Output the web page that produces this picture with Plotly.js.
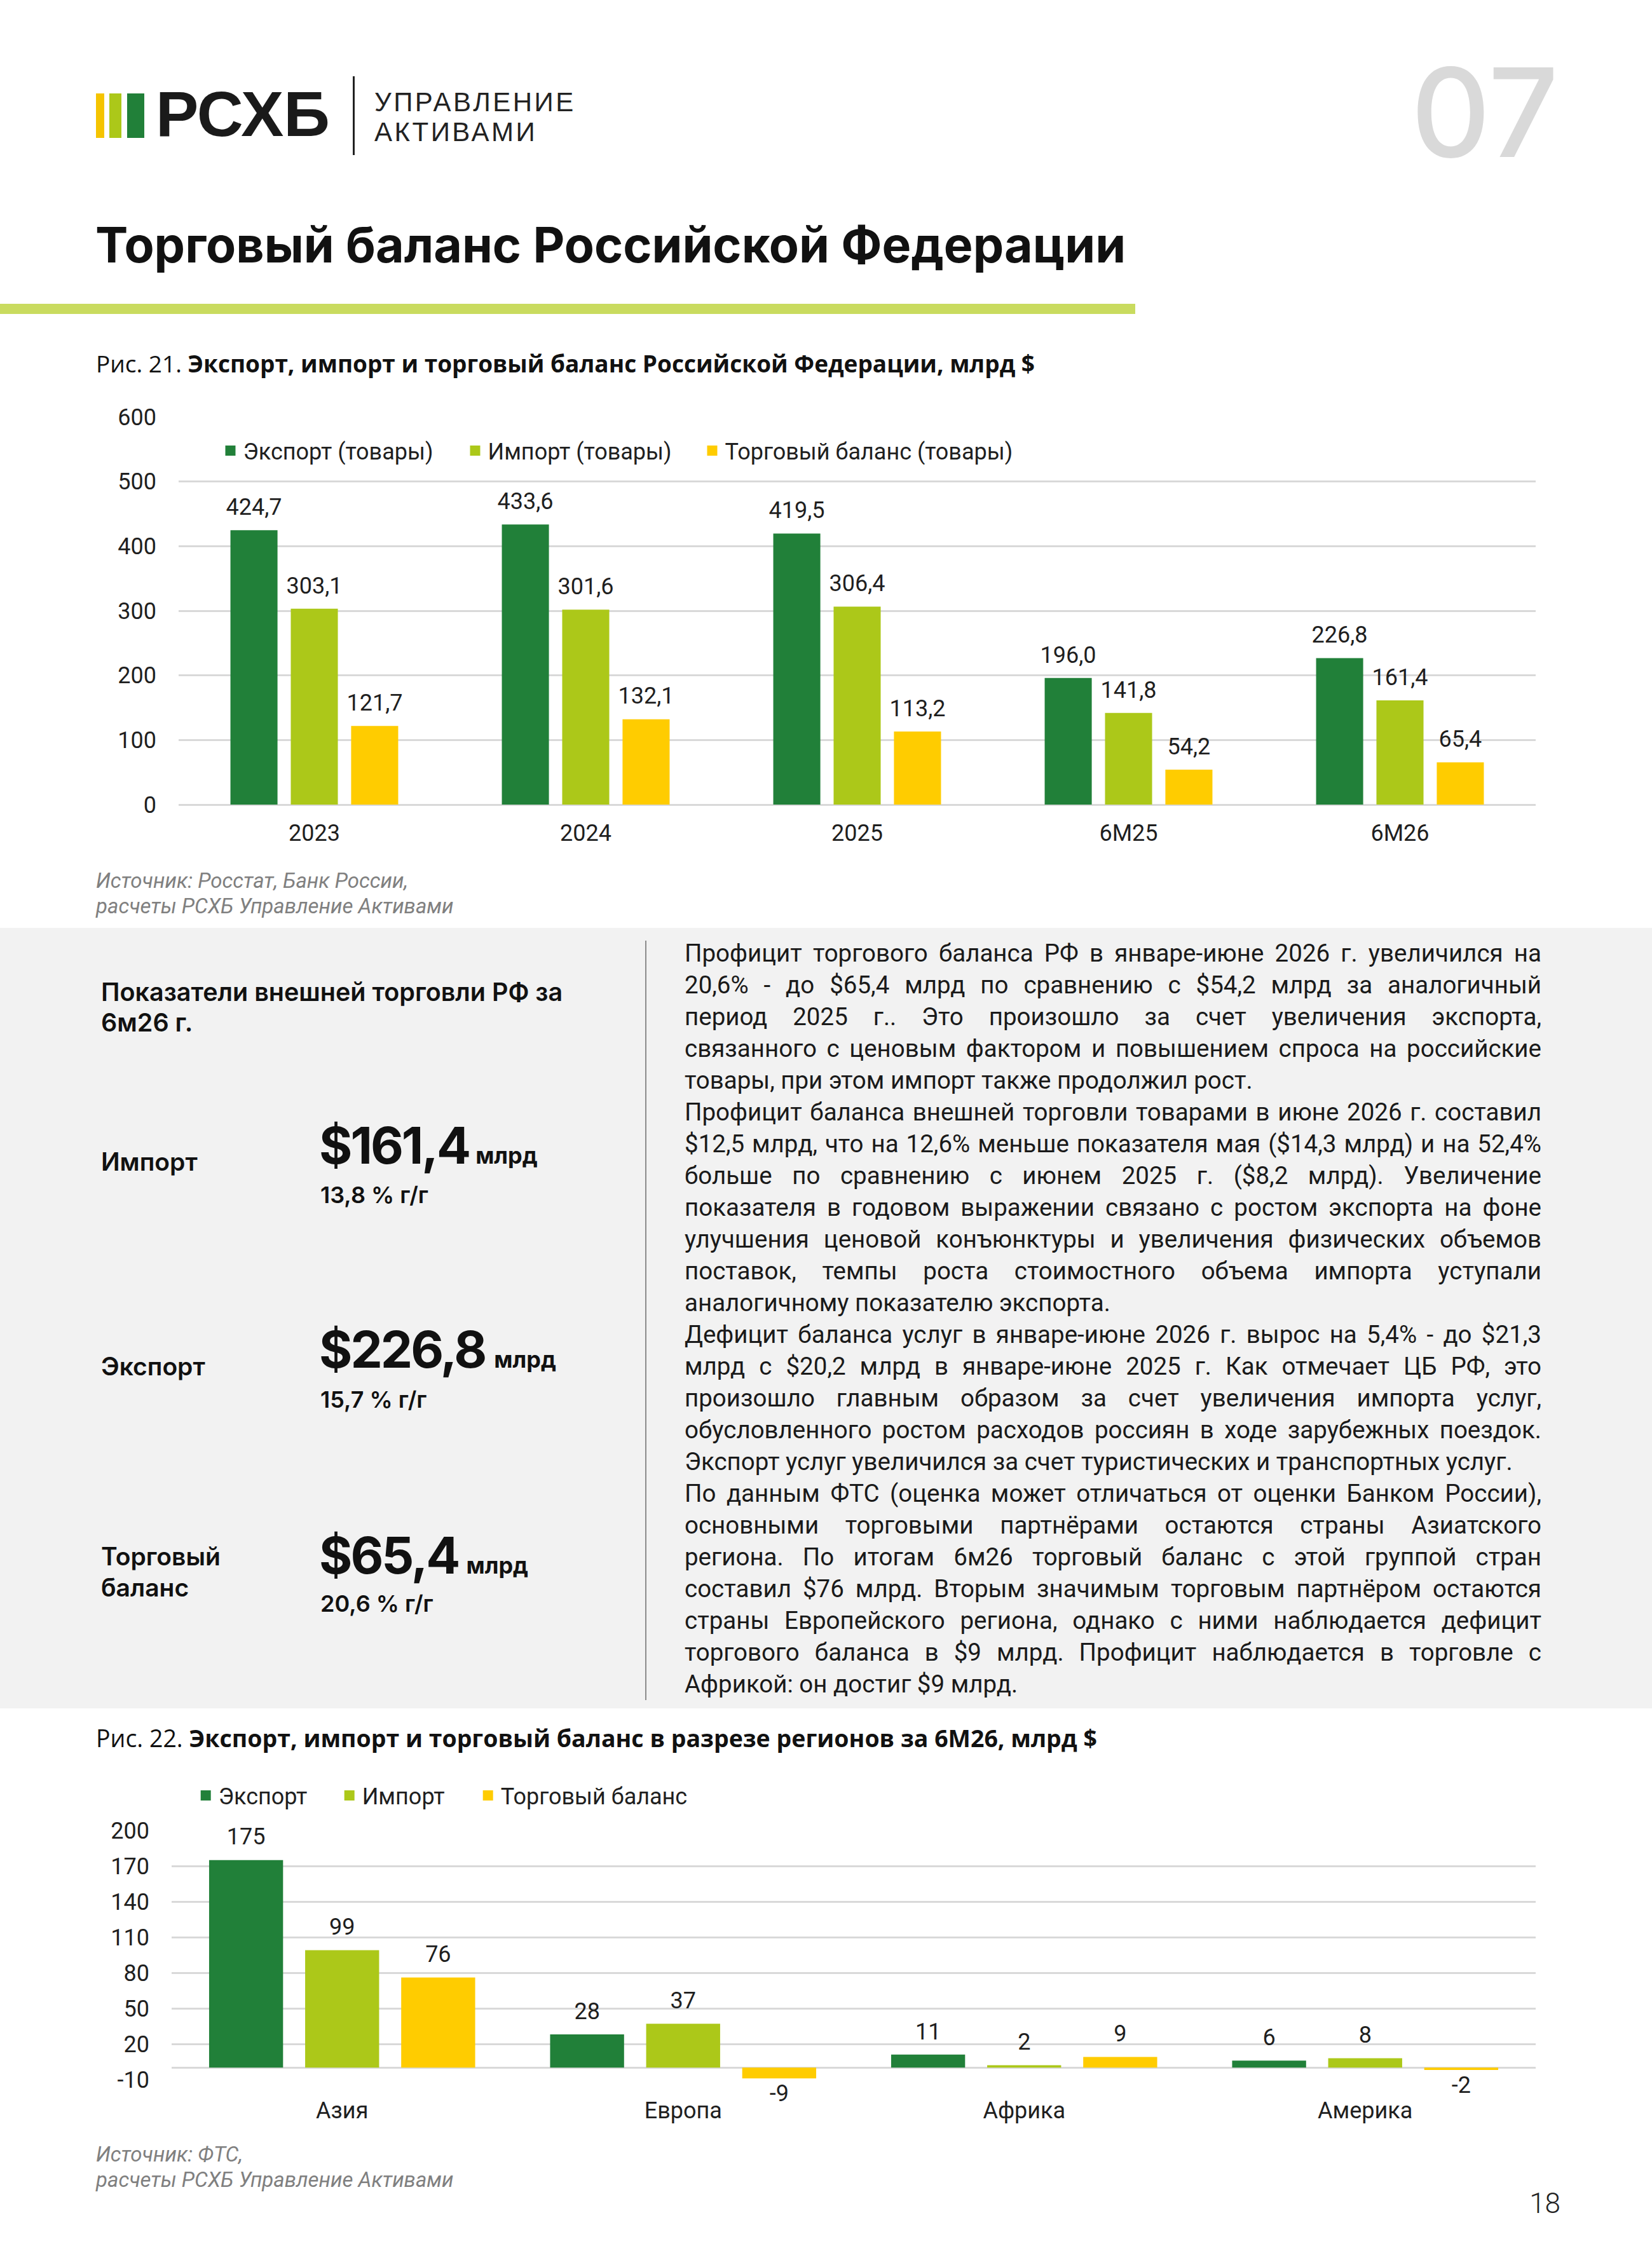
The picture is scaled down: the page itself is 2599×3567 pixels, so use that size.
<!DOCTYPE html>
<html lang="ru">
<head>
<meta charset="utf-8">
<script src="https://cdn.plot.ly/plotly-3.0.1.min.js"></script>
<style>
  html, body { margin: 0; padding: 0; background: #ffffff; }
  body { width: 2599px; height: 3567px; position: relative; overflow: hidden; font-family: Roboto, "Noto Sans", sans-serif; color: #1a1a1a; }
  .abs { position: absolute; white-space: nowrap; }
  .inter { font-family: Inter, "Noto Sans", sans-serif; }
  .rob { font-family: Roboto, "Noto Sans", sans-serif; }
  .osans { font-family: "Open Sans", Roboto, sans-serif; }
  #panel { position: absolute; left: 0; top: 1460px; width: 2599px; height: 1228px; background: #f2f2f2; }
  #vline { position: absolute; left: 1015px; top: 1480px; width: 2px; height: 1195px; background: #8c8c8c; }
  #body { position: absolute; left: 1077px; top: 1475px; width: 1348px; font-family: Roboto, sans-serif; font-size: 38.5px; line-height: 50px; color: #1a1a1a; }
  #body div { text-align: justify; text-align-last: justify; white-space: nowrap; }
  #body div.last { text-align-last: left; }
  #chart1 { position: absolute; left: 0; top: 600px; width: 2599px; height: 756px; }
  #chart2 { position: absolute; left: 0; top: 2770px; width: 2599px; height: 582px; }
</style>
</head>
<body>
<!-- header -->
<div class="abs" style="left:151px;top:147px;width:13px;height:70px;background:#f5c400;"></div>
<div class="abs" style="left:172px;top:147px;width:19px;height:70px;background:#acc819;"></div>
<div class="abs" style="left:200px;top:147px;width:27px;height:70px;background:#218039;"></div>
<div class="abs" style="left:245px;top:129px;font-family:'Liberation Sans',Arial,sans-serif;font-size:101px;line-height:101px;font-weight:700;color:#1a1a1a;">РСХБ</div>
<div class="abs" style="left:555px;top:120px;width:3px;height:124px;background:#222;"></div>
<div class="abs" style="left:589px;top:137px;font-family:'Liberation Sans',Arial,sans-serif;font-size:42px;line-height:47px;letter-spacing:3.5px;font-weight:400;color:#222;">УПРАВЛЕНИЕ<br>АКТИВАМИ</div>
<div class="abs inter" style="right:147px;top:80px;font-size:194px;line-height:194px;font-weight:500;color:#d9d9d9;">07</div>

<div class="abs inter" style="left:150px;top:347px;font-size:77px;line-height:77px;font-weight:700;color:#111;">Торговый баланс Российской Федерации</div>
<div class="abs" style="left:0;top:478px;width:1786px;height:16px;background:#c9db5f;"></div>

<div class="abs osans" style="left:151px;top:552px;font-size:37px;line-height:40px;color:#111;">Рис. 21. <b>Экспорт, импорт и торговый баланс Российской Федерации, млрд $</b></div>

<div id="chart1"></div>

<div class="abs rob" style="left:151px;top:1366px;font-size:33px;line-height:40px;font-style:italic;color:#808080;">Источник: Росстат, Банк России,<br>расчеты РСХБ Управление Активами</div>

<!-- panel -->
<div id="panel"></div>
<div id="vline"></div>
<div class="abs inter" style="left:159px;top:1537px;font-size:39.5px;line-height:48px;font-weight:600;color:#111;">Показатели внешней торговли РФ за<br>6м26 г.</div>

<div class="abs inter" style="left:159px;top:1804px;font-size:39px;line-height:48px;font-weight:600;color:#111;">Импорт</div>
<div class="abs inter" style="left:502px;top:1762px;font-size:80px;line-height:80px;font-weight:700;color:#111;letter-spacing:-3px;">$161,4<span style="font-size:36px;letter-spacing:0;margin-left:10px;">млрд</span></div>
<div class="abs inter" style="left:504px;top:1862px;font-size:36px;line-height:36px;font-weight:600;color:#111;">13,8 % г/г</div>

<div class="abs inter" style="left:159px;top:2126px;font-size:39px;line-height:48px;font-weight:600;color:#111;">Экспорт</div>
<div class="abs inter" style="left:502px;top:2083px;font-size:80px;line-height:80px;font-weight:700;color:#111;letter-spacing:-3px;">$226,8<span style="font-size:36px;letter-spacing:0;margin-left:14px;">млрд</span></div>
<div class="abs inter" style="left:504px;top:2184px;font-size:36px;line-height:36px;font-weight:600;color:#111;">15,7 % г/г</div>

<div class="abs inter" style="left:159px;top:2424px;font-size:39px;line-height:49px;font-weight:600;color:#111;">Торговый<br>баланс</div>
<div class="abs inter" style="left:502px;top:2407px;font-size:80px;line-height:80px;font-weight:700;color:#111;letter-spacing:-3px;">$65,4<span style="font-size:36px;letter-spacing:0;margin-left:12px;">млрд</span></div>
<div class="abs inter" style="left:504px;top:2505px;font-size:36px;line-height:36px;font-weight:600;color:#111;">20,6 % г/г</div>

<div id="body">
<div>Профицит торгового баланса РФ в январе-июне 2026 г. увеличился на</div>
<div>20,6% - до $65,4 млрд по сравнению с $54,2 млрд за аналогичный</div>
<div>период 2025 г.. Это произошло за счет увеличения экспорта,</div>
<div>связанного с ценовым фактором и повышением спроса на российские</div>
<div class="last">товары, при этом импорт также продолжил рост.</div>
<div>Профицит баланса внешней торговли товарами в июне 2026 г. составил</div>
<div>$12,5 млрд, что на 12,6% меньше показателя мая ($14,3 млрд) и на 52,4%</div>
<div>больше по сравнению с июнем 2025 г. ($8,2 млрд). Увеличение</div>
<div>показателя в годовом выражении связано с ростом экспорта на фоне</div>
<div>улучшения ценовой конъюнктуры и увеличения физических объемов</div>
<div>поставок, темпы роста стоимостного объема импорта уступали</div>
<div class="last">аналогичному показателю экспорта.</div>
<div>Дефицит баланса услуг в январе-июне 2026 г. вырос на 5,4% - до $21,3</div>
<div>млрд с $20,2 млрд в январе-июне 2025 г. Как отмечает ЦБ РФ, это</div>
<div>произошло главным образом за счет увеличения импорта услуг,</div>
<div>обусловленного ростом расходов россиян в ходе зарубежных поездок.</div>
<div class="last">Экспорт услуг увеличился за счет туристических и транспортных услуг.</div>
<div>По данным ФТС (оценка может отличаться от оценки Банком России),</div>
<div>основными торговыми партнёрами остаются страны Азиатского</div>
<div>региона. По итогам 6м26 торговый баланс с этой группой стран</div>
<div>составил $76 млрд. Вторым значимым торговым партнёром остаются</div>
<div>страны Европейского региона, однако с ними наблюдается дефицит</div>
<div>торгового баланса в $9 млрд. Профицит наблюдается в торговле с</div>
<div class="last">Африкой: он достиг $9 млрд.</div>
</div>

<div class="abs osans" style="left:151px;top:2715px;font-size:37.5px;line-height:40px;color:#111;">Рис. 22. <b>Экспорт, импорт и торговый баланс в разрезе регионов за 6М26, млрд $</b></div>

<div id="chart2"></div>

<div class="abs rob" style="left:151px;top:3370px;font-size:33px;line-height:40px;font-style:italic;color:#808080;">Источник: ФТС,<br>расчеты РСХБ Управление Активами</div>

<div class="abs rob" style="right:144px;top:3445px;font-size:44px;line-height:44px;font-weight:300;color:#222;">18</div>

<script>
// ---------- data: chart 1 ----------
var periods = ['2023', '2024', '2025', '6М25', '6М26'];
var exportGoods = [424.7, 433.6, 419.5, 196.0, 226.8];
var importGoods = [303.1, 301.6, 306.4, 141.8, 161.4];
var balanceGoods = [121.7, 132.1, 113.2, 54.2, 65.4];
var seriesNames1 = ['Экспорт (товары)', 'Импорт (товары)', 'Торговый баланс (товары)'];
var yTicks1 = [0, 100, 200, 300, 400, 500, 600];

// ---------- data: chart 2 ----------
var regions = ['Азия', 'Европа', 'Африка', 'Америка'];
var exportRegion = [175, 28, 11, 6];
var importRegion = [99, 37, 2, 8];
var balanceRegion = [76, -9, 9, -2];
var seriesNames2 = ['Экспорт', 'Импорт', 'Торговый баланс'];
var yTicks2 = [-10, 20, 50, 80, 110, 140, 170, 200];

// ---------- style ----------
var COLORS = ['#218039', '#acc819', '#ffcc00'];
var FONT = 'Roboto, "Noto Sans", sans-serif';
var TXT = '#1f1f1f';
var GRID = '#d9d9d9';
var LABEL_SIZE = 36;   // visible size of the bar value labels
var PAD_SIZE = 14;     // small invisible extra line that keeps the labels off the bars
var PAD = '<span style="color:rgba(0,0,0,0)">.</span>';

function big(s) { return '<span style="font-size:' + LABEL_SIZE + 'px">' + s + '</span>'; }
// value label text: the padding line goes on the side facing the bar
function labelText(v, s) { return v >= 0 ? big(s) + '<br>' + PAD : PAD + '<br>' + big(s); }
function fmt1(v) { return v.toFixed(1).replace('.', ','); }
function fmt0(v) { return String(v); }

function barTrace(x, y, color, fmt) {
  return {
    type: 'bar', x: x, y: y,
    marker: { color: color },
    text: y.map(function (v) { return labelText(v, fmt(v)); }),
    texttemplate: '%{text}', textposition: 'outside',
    textfont: { family: FONT, size: PAD_SIZE, color: TXT },
    constraintext: 'none', cliponaxis: false,
    showlegend: false, hoverinfo: 'skip'
  };
}
function legendTrace(name, color, x0, w) {
  return {
    type: 'scatter', mode: 'markers', name: name,
    x: [x0], y: [null],
    marker: { symbol: 'square', size: 16, color: color },
    legendwidth: w, hoverinfo: 'skip', showlegend: true
  };
}

// ---------- chart 1 ----------
var data1 = [
  barTrace(periods, exportGoods, COLORS[0], fmt1),
  barTrace(periods, importGoods, COLORS[1], fmt1),
  barTrace(periods, balanceGoods, COLORS[2], fmt1),
  legendTrace(seriesNames1[0], COLORS[0], periods[0], 340),
  legendTrace(seriesNames1[1], COLORS[1], periods[0], 328),
  legendTrace(seriesNames1[2], COLORS[2], periods[0], 500)
];
var layout1 = {
  width: 2599, height: 756,
  margin: { l: 281, r: 183, t: 56, b: 90 },
  paper_bgcolor: 'rgba(0,0,0,0)', plot_bgcolor: 'rgba(0,0,0,0)',
  font: { family: FONT, size: 36, color: TXT },
  barmode: 'group', bargap: 0.333, bargroupgap: 0.22,
  showlegend: true,
  legend: {
    orientation: 'h', x: 0.0288, xanchor: 'left', y: 0.913, yanchor: 'middle',
    font: { family: FONT, size: 36, color: TXT }, bgcolor: 'rgba(0,0,0,0)',
    traceorder: 'normal'
  },
  xaxis: {
    type: 'category', showgrid: false, showline: false, zeroline: false,
    ticks: '', tickfont: { family: FONT, size: 36, color: TXT },
    ticklabelstandoff: 20
  },
  yaxis: {
    range: [0, 600], tickmode: 'array', tickvals: yTicks1, ticktext: yTicks1.map(fmt0),
    showline: false,
    gridcolor: GRID, gridwidth: 3, zeroline: true, zerolinecolor: GRID, zerolinewidth: 3,
    ticks: '', tickfont: { family: FONT, size: 36, color: TXT },
    ticklabelstandoff: 34
  }
};

// ---------- chart 2 ----------
var data2 = [
  barTrace(regions, exportRegion, COLORS[0], fmt0),
  barTrace(regions, importRegion, COLORS[1], fmt0),
  barTrace(regions, balanceRegion, COLORS[2], fmt0),
  legendTrace(seriesNames2[0], COLORS[0], regions[0], 181),
  legendTrace(seriesNames2[1], COLORS[1], regions[0], 173),
  legendTrace(seriesNames2[2], COLORS[2], regions[0], 320)
];
var layout2 = {
  width: 2599, height: 582,
  margin: { l: 270, r: 183, t: 110, b: 80 },
  paper_bgcolor: 'rgba(0,0,0,0)', plot_bgcolor: 'rgba(0,0,0,0)',
  font: { family: FONT, size: 36, color: TXT },
  barmode: 'group', bargap: 0.155, bargroupgap: 0.23,
  showlegend: true,
  legend: {
    orientation: 'h', x: 0.0157, xanchor: 'left', y: 1.14, yanchor: 'middle',
    font: { family: FONT, size: 36, color: TXT }, bgcolor: 'rgba(0,0,0,0)',
    traceorder: 'normal'
  },
  xaxis: {
    type: 'category', showgrid: false, showline: false, zeroline: false,
    ticks: '', tickfont: { family: FONT, size: 36, color: TXT },
    ticklabelstandoff: 24
  },
  yaxis: {
    range: [-10, 200], tickmode: 'array', tickvals: yTicks2, ticktext: yTicks2.map(fmt0),
    showline: false,
    gridcolor: GRID, gridwidth: 3, zeroline: true, zerolinecolor: GRID, zerolinewidth: 3,
    ticks: '', tickfont: { family: FONT, size: 36, color: TXT },
    ticklabelstandoff: 34
  }
};

var cfg = { staticPlot: true, displayModeBar: false };
Plotly.newPlot('chart1', data1, layout1, cfg);
Plotly.newPlot('chart2', data2, layout2, cfg);
</script>
</body>
</html>
